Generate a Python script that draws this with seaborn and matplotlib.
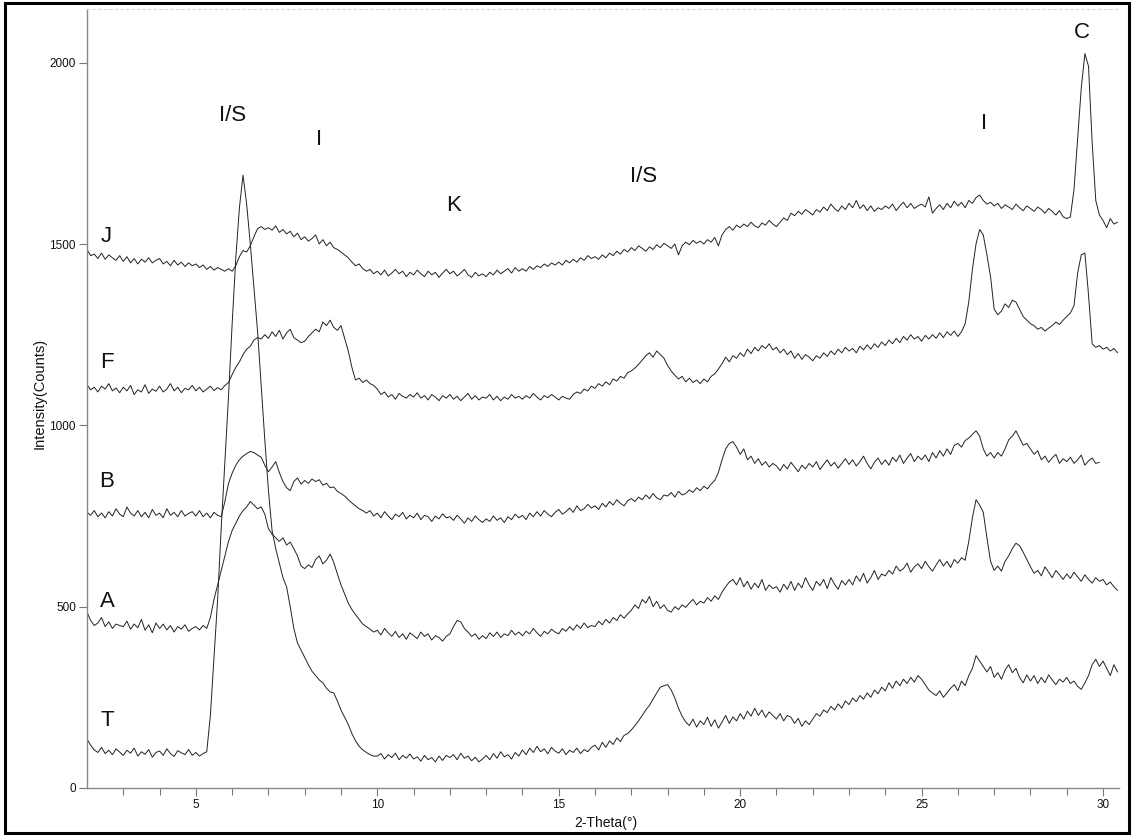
import matplotlib
matplotlib.use("Agg")
import matplotlib.pyplot as plt
from matplotlib.patches import Rectangle
import numpy as np
import pandas as pd
import seaborn as sns

# XRD scan, 0.1 deg step from 2.0 to 30.4 (2-theta)
two_theta = np.round(np.arange(2.0, 30.45, 0.1), 1)

# counts, one row per degree
T = [
    135, 118, 105, 98, 112, 95, 104, 92, 108, 99,
    90, 104, 96, 110, 88, 100, 93, 106, 85, 98,
    102, 90, 108, 95, 87, 103, 97, 92, 106, 90,
    98, 88, 95, 100, 200, 360, 520, 720, 900, 1080,
    1280, 1460, 1600, 1690, 1610, 1500, 1380, 1260, 1110, 960,
    820, 710, 660, 620, 580, 555, 500, 440, 400, 380,
    360, 340, 322, 310, 298, 290, 275, 265, 262, 240,
    215, 195, 175, 150, 130, 115, 105, 98, 92, 88,
    88, 95, 80, 92, 84, 96, 78, 90, 82, 94,
    80, 86, 74, 90, 78, 84, 72, 88, 76, 90,
    84, 92, 78, 96, 82, 88, 75, 85, 72, 80,
    90, 78, 95, 82, 100, 86, 92, 80, 98, 88,
    105, 92, 110, 98, 115, 100, 108, 94, 112, 102,
    96, 108, 92, 104, 98, 110, 95, 106, 100, 112,
    118, 105, 126, 112, 130, 120, 138, 128, 145, 150,
    160, 172, 185, 200, 215, 228, 245, 262, 278, 282,
    285, 270, 248, 220, 198, 182, 172, 190, 168, 185,
    175, 195, 170, 188, 165, 182, 200, 178, 196, 185,
    205, 190, 212, 198, 220, 200, 215, 195, 210, 200,
    190, 205, 185, 200, 195, 178, 192, 170, 185, 175,
    190, 205, 198, 215, 208, 225, 215, 232, 220, 240,
    230, 248, 238, 255, 245, 262, 250, 270, 260, 278,
    268, 290, 275, 295, 282, 300, 288, 305, 292, 310,
    300, 285, 270, 262, 255, 268, 250, 262, 275, 285,
    268, 295, 282, 310, 330, 365, 350, 335, 320, 335,
    305, 318, 300, 325, 340, 318, 330, 305, 290, 312,
    295, 310, 288, 305, 290, 312, 298, 285, 300, 292,
    305, 288, 295, 280, 272, 290, 310, 340, 355, 335,
    350, 330, 310, 340, 320,
]

A = [
    485, 462, 448, 455, 470, 445, 458, 440, 452, 448,
    445, 460, 438, 452, 442, 465, 435, 450, 428, 455,
    440, 452, 436, 448, 430, 445, 438, 450, 432, 440,
    445, 436, 448, 440, 470, 520, 560, 600, 640, 680,
    710, 730, 750, 765, 775, 790, 780, 770, 775, 755,
    715, 700, 690, 680, 690, 670, 678, 660, 640, 612,
    605, 615, 608, 630, 640, 618, 628, 645, 622, 590,
    560, 535, 510, 492, 478, 465, 452, 445, 438, 430,
    435, 422, 440, 428, 418, 432, 415, 425, 410, 428,
    420, 412, 430, 418, 425, 408, 420, 415, 405, 418,
    425, 445, 462, 458, 440, 430, 418, 425, 410, 420,
    412, 428, 418, 430, 415, 425, 420, 435, 422, 430,
    420, 432, 425, 440, 428, 418, 432, 425, 438, 430,
    425, 440, 432, 445, 435, 450, 440, 455, 442, 448,
    445, 460, 450, 465, 455, 470, 462, 478, 468, 480,
    490, 505, 495, 520, 510, 528, 500, 515, 495, 505,
    490, 485, 500, 492, 505, 498, 510, 520, 505, 515,
    510, 525, 515, 530, 520, 540, 555, 568, 575, 560,
    580, 555, 570, 548, 565, 552, 575, 545, 560, 550,
    555, 540, 562, 548, 570, 545, 565, 552, 580, 560,
    545, 570, 558, 575, 550, 580, 562, 548, 572, 560,
    575, 560, 585, 570, 592, 565, 580, 600, 575, 590,
    585, 600, 590, 612, 598, 605, 620, 595, 610, 618,
    605, 625, 610, 598, 615, 630, 612, 625, 608, 630,
    620, 635, 628, 680, 745, 795, 780, 760, 690, 625,
    600, 612, 598, 625, 640, 660, 675, 668, 650, 630,
    610, 592, 600, 585, 610, 595, 580, 600, 588, 575,
    590, 578, 595, 582, 570, 588, 575, 565, 580, 570,
    575, 560, 568, 555, 545,
]

# B stops at 29.9
B = [
    760, 752, 765, 748, 758, 745, 762, 750, 770, 755,
    748, 775, 758, 750, 765, 748, 760, 745, 768, 752,
    758, 745, 770, 752, 760, 748, 765, 750, 757, 762,
    750, 765, 748, 758, 745, 760, 752, 748, 790, 840,
    868, 890, 905, 915, 922, 928, 925, 918, 912, 890,
    872, 885, 900, 870, 845, 828, 820, 845, 855, 838,
    848, 840, 852, 845, 850, 835, 840, 828, 830, 818,
    812, 805, 795, 786, 778, 770, 765, 758, 765, 750,
    758, 745, 762, 750, 740, 755, 748, 760, 742, 752,
    745, 758, 740, 752, 748, 735, 750, 742, 756, 745,
    748, 738, 752, 742, 730, 745, 735, 750, 740, 732,
    742, 735, 750, 738, 745, 732, 748, 740, 755, 745,
    752, 740, 758, 748, 762, 750, 765, 755, 748, 760,
    768, 755, 762, 772, 760, 778, 765, 770, 782, 772,
    778, 768, 785, 775, 790, 780, 795, 785, 778, 792,
    798, 790, 802, 795, 808, 798, 812, 800, 795, 808,
    805, 815, 802, 818, 808, 812, 822, 815, 828, 820,
    832, 825, 838, 848, 870, 905, 935, 950, 955, 940,
    920, 935, 905, 915, 895, 908, 890, 900, 885, 895,
    888, 875, 892, 880, 898, 885, 872, 890, 880, 895,
    885, 900, 878, 892, 905, 888, 898, 882, 895, 908,
    892, 905, 888, 900, 915, 895, 880, 898, 910, 892,
    905, 890, 912, 900, 918, 895, 910, 922, 900, 915,
    905, 918, 900, 925, 910, 930, 915, 935, 920, 945,
    950, 940, 958, 965, 975, 985, 970, 935, 915, 925,
    910, 925, 915, 935, 960, 970, 985, 965, 945, 950,
    935, 920, 930, 905, 915, 898, 910, 920, 895, 908,
    900, 912, 895, 905, 918, 890, 902, 910, 895, 898,
]

F = [
    1112, 1098, 1105, 1092, 1108, 1100, 1115, 1095, 1103, 1090,
    1105, 1095, 1110, 1085, 1098, 1092, 1112, 1088, 1100, 1094,
    1108, 1092, 1100, 1115, 1095, 1105, 1090, 1102, 1098, 1110,
    1095, 1105, 1092, 1100, 1108, 1096, 1104, 1098, 1110, 1118,
    1140, 1160, 1175, 1195, 1210, 1218, 1235, 1242, 1238, 1250,
    1240, 1258, 1245, 1262, 1238, 1255, 1265, 1242, 1235, 1228,
    1232, 1245, 1255, 1265, 1258, 1285, 1275, 1290, 1270, 1262,
    1275, 1240, 1205, 1160, 1125, 1130, 1118, 1125, 1115, 1110,
    1100, 1085, 1092, 1078, 1085, 1072, 1088, 1080, 1075, 1085,
    1078, 1090, 1075, 1082, 1070, 1085, 1078, 1068, 1082, 1075,
    1085, 1072, 1080, 1068, 1078, 1088, 1072, 1082, 1070, 1078,
    1075, 1085, 1070, 1080, 1068, 1078, 1072, 1085, 1075, 1080,
    1072, 1082, 1075, 1088, 1078, 1070, 1082, 1076, 1085, 1078,
    1070, 1080, 1075, 1072, 1085, 1092, 1088, 1100, 1095, 1108,
    1102, 1115, 1108, 1120, 1112, 1128, 1122, 1135, 1130, 1145,
    1150, 1158, 1168, 1180, 1192, 1200, 1188, 1205, 1195, 1185,
    1165, 1150, 1138, 1128, 1135, 1120, 1130, 1118, 1125, 1115,
    1128, 1120, 1135, 1142, 1155, 1170, 1188, 1175, 1192, 1185,
    1200, 1190, 1210, 1198, 1215, 1205, 1220, 1212, 1225, 1208,
    1215, 1200, 1210, 1195, 1205, 1185, 1198, 1182, 1195, 1188,
    1178, 1192, 1185, 1200, 1190, 1205, 1195, 1210, 1200, 1215,
    1205, 1212, 1200, 1218, 1208, 1222, 1210, 1225, 1215, 1230,
    1220, 1235, 1225, 1240, 1228, 1245, 1235, 1250, 1238, 1245,
    1232, 1248, 1238, 1250, 1240, 1255, 1242, 1258, 1248, 1260,
    1245, 1258, 1280, 1340, 1430, 1500, 1540, 1525, 1470, 1410,
    1320, 1305, 1315, 1335, 1325, 1345, 1340, 1320, 1300, 1290,
    1280, 1275, 1265, 1270, 1260, 1268, 1275, 1285, 1278, 1290,
    1300, 1310, 1330, 1420, 1470, 1475, 1360, 1225, 1215, 1220,
    1210, 1215, 1205, 1212, 1200,
]

J = [
    1485, 1468, 1472, 1460, 1475, 1458, 1470, 1462, 1455, 1468,
    1452, 1465, 1448, 1460, 1445, 1458, 1450, 1462, 1448, 1455,
    1460, 1445, 1452, 1440, 1455, 1442, 1450, 1438, 1448, 1440,
    1445, 1435, 1442, 1430, 1438, 1428, 1435, 1430, 1425, 1432,
    1425, 1440, 1465, 1482, 1478, 1495, 1520, 1542, 1548, 1540,
    1545, 1538, 1550, 1532, 1540, 1528, 1535, 1520, 1530, 1512,
    1520, 1508, 1515, 1525, 1500, 1512, 1495, 1505, 1490, 1485,
    1478, 1470, 1462, 1450, 1440, 1445, 1432, 1425, 1430, 1418,
    1425, 1415, 1428, 1412, 1420, 1430, 1418, 1425, 1410, 1422,
    1415, 1428, 1418, 1410, 1425, 1415, 1422, 1408, 1420, 1430,
    1418, 1425, 1412, 1420, 1430, 1415, 1408, 1422, 1412, 1418,
    1410, 1422, 1415, 1428, 1418, 1425, 1432, 1420, 1435, 1425,
    1432, 1425, 1438, 1430, 1440, 1435, 1445, 1438, 1448, 1442,
    1450, 1442, 1455, 1448, 1458, 1450, 1462, 1455, 1468, 1460,
    1465, 1458, 1470, 1462, 1475, 1468, 1480, 1472, 1485, 1478,
    1490, 1482, 1495, 1488, 1480, 1492, 1485, 1498, 1490, 1502,
    1495, 1488, 1500, 1470, 1495, 1505, 1498, 1510, 1502, 1508,
    1500, 1512, 1505, 1518, 1495, 1525, 1540, 1548, 1538, 1552,
    1545, 1555, 1548, 1560, 1550, 1545, 1558, 1552, 1565, 1555,
    1548, 1560, 1572, 1565, 1585, 1578, 1590, 1582, 1595, 1588,
    1580, 1595, 1588, 1602, 1592, 1610, 1598, 1590, 1605, 1595,
    1612, 1600, 1620, 1598, 1608, 1592, 1605, 1590, 1600, 1595,
    1605, 1598, 1610, 1592, 1605, 1615, 1600, 1612, 1598, 1605,
    1610, 1602, 1630, 1585, 1598, 1608, 1595, 1612, 1600, 1618,
    1605, 1615, 1600, 1620, 1612, 1628, 1635, 1620, 1610, 1615,
    1605, 1612, 1598, 1608, 1602, 1595, 1610, 1600, 1592, 1605,
    1598, 1590, 1602, 1595, 1585, 1598, 1590, 1580, 1592, 1575,
    1570, 1575, 1650, 1790, 1930, 2025, 1990, 1780, 1620, 1580,
    1565, 1545, 1570, 1555, 1560,
]

samples = ["J", "F", "B", "A", "T"]
series = {"J": J, "F": F, "B": B, "A": A, "T": T}
# where the sample letters sit (2-theta, counts)
sample_x = [2.52, 2.55, 2.55, 2.55, 2.55]
sample_y = [1522, 1172, 846, 513, 185]

# mineral peak labels
peak_names = ["I/S", "I", "K", "I/S", "I", "C"]
peak_x = [6.01, 8.40, 12.1, 17.33, 26.73, 29.42]
peak_y = [1855, 1787, 1607, 1685, 1833, 2084]

frames = []
for s in samples:
    vals = series[s]
    frames.append(pd.DataFrame({"two_theta": two_theta[:len(vals)],
                                "counts": vals, "sample": s}))
df = pd.concat(frames, ignore_index=True)

sns.set_theme(style="white")
plt.rcParams["font.family"] = ["Liberation Sans", "DejaVu Sans"]

fig = plt.figure(figsize=(11.34, 8.36), dpi=100)
ax = fig.add_axes([87 / 1134, 48 / 836, 1032 / 1134, 779 / 836])

sns.lineplot(data=df, x="two_theta", y="counts", units="sample",
             estimator=None, color="#222222", linewidth=0.7, ax=ax,
             sort=False)

ax.set_xlim(2.0, 30.44)
ax.set_ylim(0, 2148)

ax.set_xticks([5, 10, 15, 20, 25, 30])
ax.set_xticks(np.arange(3, 31, 1), minor=True)
ax.set_yticks([0, 500, 1000, 1500, 2000])
ax.tick_params(axis="both", which="major", direction="out", length=6,
               width=0.8, color="#777777", labelsize=8.5, pad=2,
               labelcolor="#111111")
ax.tick_params(axis="x", which="minor", direction="out", length=5,
               width=0.8, color="#777777", bottom=True)
ax.tick_params(axis="x", which="major", bottom=True)
ax.tick_params(axis="y", which="major", left=True)

for side in ["left", "bottom"]:
    ax.spines[side].set_color("#888888")
    ax.spines[side].set_linewidth(1.0)
ax.spines["right"].set_visible(False)
ax.spines["top"].set_color("#d6d6d6")
ax.spines["top"].set_linestyle((0, (2, 3)))
ax.spines["top"].set_linewidth(0.8)

ax.set_xlabel("2-Theta(°)", fontsize=10, color="#111111")
ax.set_ylabel("Intensity(Counts)", fontsize=10.5, color="#111111")
ax.xaxis.set_label_coords(0.503, -0.036)
ax.yaxis.set_label_coords(-0.0388, 0.506)

for s, sx, sy in zip(samples, sample_x, sample_y):
    ax.text(sx, sy, s, fontsize=16, ha="center", va="center",
            color="#111111")
for name, px, py in zip(peak_names, peak_x, peak_y):
    ax.text(px, py, name, fontsize=16, ha="center", va="center",
            color="#111111")

# black frame round the whole picture
fig.add_artist(Rectangle((0.0045, 0.003), 0.9915, 0.994,
                         transform=fig.transFigure, fill=False,
                         linewidth=2.2, edgecolor="black"))

fig.savefig("out.png", dpi=100, facecolor="white")
